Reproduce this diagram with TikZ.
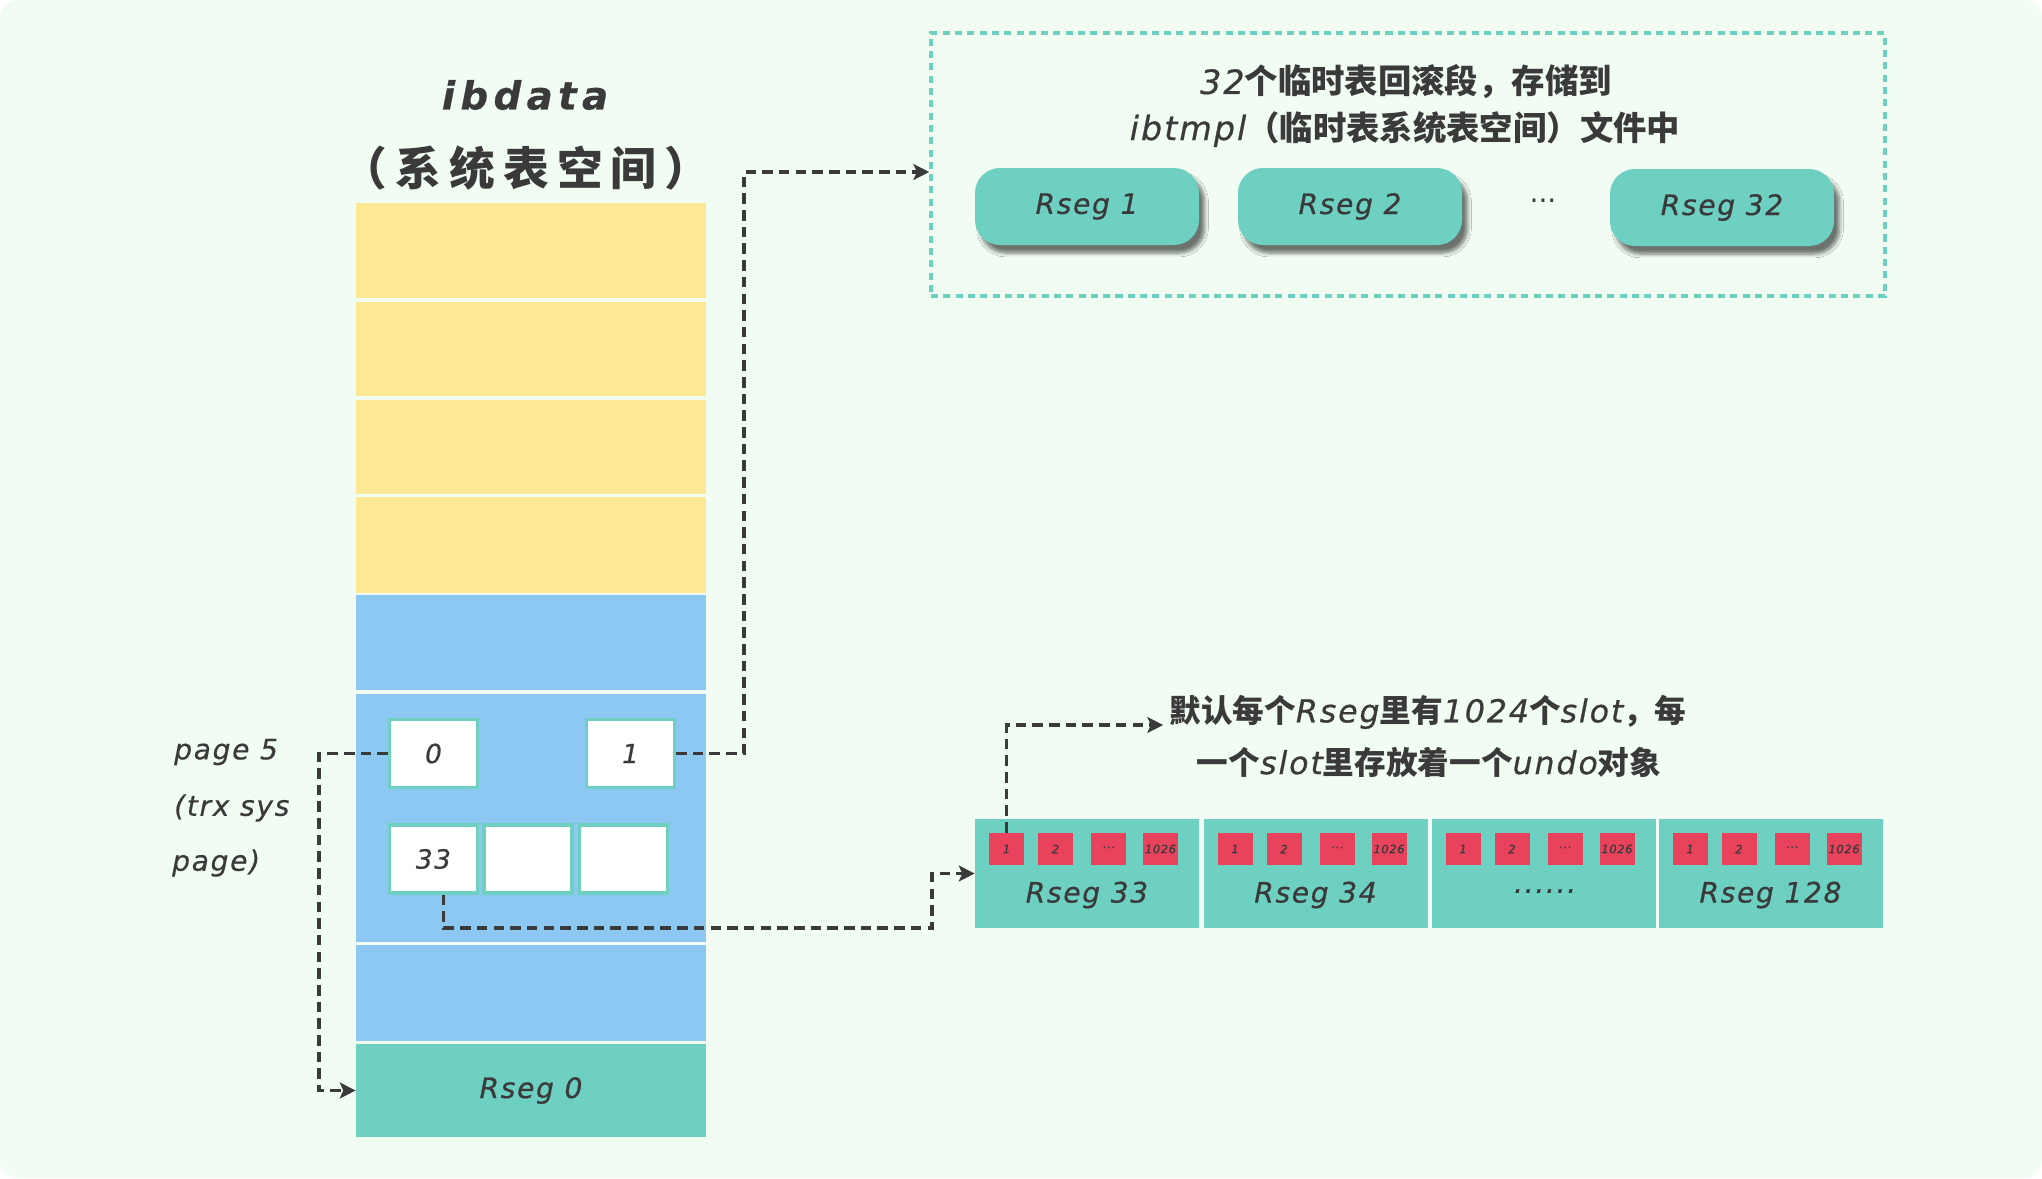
\documentclass[tikz,border=0pt]{standalone}
\usepackage{fontspec}
\setmainfont{DejaVu Sans}
\newfontfamily\hw[LetterSpace=6,FakeBold=0.6]{DejaVu Sans}
\newfontfamily\cjk{Noto Sans CJK SC}
\usetikzlibrary{arrows.meta,shadows.blur}
\newcommand\lat[1]{{\hw\mdseries\itshape #1}}
\newcommand\fs[1]{\fontsize{#1}{1.2\dimexpr#1\relax}\selectfont}
\definecolor{bgc}{HTML}{F1FDF3}
\definecolor{yel}{HTML}{FEE895}
\definecolor{blu}{HTML}{8DC8F3}
\definecolor{tealc}{HTML}{6DD0C1}
\definecolor{redc}{HTML}{E8425C}
\definecolor{dark}{HTML}{3A3A3A}
\begin{document}
\begin{tikzpicture}[x=0.02cm,y=-0.02cm,
  sz/.style 2 args={minimum width=#1*0.02cm, minimum height=#2*0.02cm},
  row/.style={inner sep=0pt, draw=none},
  wbox/.style={draw=tealc, line width=1.8pt, fill=white, inner sep=0pt, sz={88}{68}, text=dark, font={\fs{15pt}}},
  rr/.style={fill=tealc, rounded corners=0.5cm, sz={224}{77}, text=dark, font={\fs{16pt}},
     blur shadow={shadow xshift=0.11cm, shadow yshift=-0.16cm, shadow opacity=55, shadow blur steps=6}},
  cellst/.style={fill=tealc, inner sep=0pt, sz={224}{109}},
  slot/.style={fill=redc, inner sep=0pt, sz={35}{32}, text=dark, font={\hw\itshape\fs{6.5pt}}},
  lbl/.style={text=dark, font={\fs{16pt}}},
  cjkt/.style={text=dark, font={\cjk\bfseries\fs{#1}}},
  conn/.style={draw=dark, line width=2pt, dash pattern=on 6pt off 3.5pt,
     -{Stealth[length=9pt,width=9pt,inset=2pt]}}
]
\fill[white] (0,0) rectangle (2042,1178);
\fill[bgc, rounded corners=0.36cm] (0,0) rectangle (2042,1178);
\useasboundingbox (0,0) rectangle (2042,1178);

% title
\node[text=dark, font={\hw\bfseries\itshape\fs{22pt}}] (ti1) at (525,95) {\addfontfeature{LetterSpace=14}ibdata};
\node[cjkt=26pt] (ti2) at (526,168) {\addfontfeature{LetterSpace=18}（系统表空间）};

% column
\node[row, fill=yel, sz={350}{95}] (r1) at (531,250.5) {};
\node[row, fill=yel, sz={350}{94}] (r2) at (531,349) {};
\node[row, fill=yel, sz={350}{94}] (r3) at (531,447) {};
\node[row, fill=yel, sz={350}{96}] (r4) at (531,545) {};
\node[row, fill=blu, sz={350}{95}] (r5) at (531,642.5) {};
\node[row, fill=blu, sz={350}{248}] (r6) at (531,818) {};
\node[row, fill=blu, sz={350}{96}] (r7) at (531,993) {};
\node[row, fill=tealc, sz={350}{93}, lbl] (r8) at (531,1090.5) {\lat{Rseg 0}};

% boxes in page 5
\node[wbox] (b0) at (433.5,753.5) {\lat{0}};
\node[wbox] (b1) at (630.5,753.5) {\lat{1}};
\node[wbox] (b33) at (433.5,859) {\lat{33}};
\node[wbox] (bb) at (528,859) {};
\node[wbox] (bc) at (623.5,859) {};

% page 5 label
\node[lbl, anchor=west] (p1) at (168,752) {\lat{page 5}};
\node[lbl, anchor=west] (p2) at (168,808) {\lat{(trx sys}};
\node[lbl, anchor=west] (p3) at (166,863) {\lat{page)}};

% top dashed box
\node[draw=tealc, dash pattern=on 4pt off 3pt, line width=2pt, sz={954}{263}] (tbox) at (1408,164.5) {};
\node[cjkt=19pt] (t1) at (1406,82) {\lat{32}个临时表回滚段，存储到};
\node[cjkt=19pt] (t2) at (1405,129) {\lat{ibtmpl}（临时表系统表空间）文件中};
\node[rr] (q1) at (1087,206.5) {\lat{Rseg 1}};
\node[rr] (q2) at (1350,206.5) {\lat{Rseg 2}};
\node[lbl] (qd) at (1543,205) {···};
\node[rr] (q32) at (1722,207.5) {\lat{Rseg 32}};

% bottom strip
\foreach \i/\cx/\t in {1/1087/Rseg 33, 2/1315.5/Rseg 34, 3/1543.5/······, 4/1770.5/Rseg 128}{
  \node[cellst] (s\i) at (\cx,873.5) {};
  \node[lbl] (l\i) at (\cx,895) {\lat{\t}};
  \foreach \j/\dx/\st in {1/31.5/1, 2/80.5/2, 3/133.5/···, 4/185.5/1026}{
    \node[slot] (sl\i\j) at (\cx-112+\dx,849) {\st};
  }
}

% note
\node[cjkt=18pt] (n1) at (1428,712) {默认每个\lat{Rseg}里有\lat{1024}个\lat{slot}，每};
\node[cjkt=18pt] (n2) at (1429,762) {一个\lat{slot}里存放着一个\lat{undo}对象};

% connectors
\draw[conn] (b1.east) -- ++(68,0) |- ([yshift=-0.15cm]tbox.west);
\draw[conn] (b0.west) -- ++(-69,0) |- (r8.west);
\draw[conn] ([xshift=0.2cm]b33.south) |- (932,928) |- (s1.west);
\draw[conn] (sl11.north) |- ([yshift=-0.26cm]n1.west);
\end{tikzpicture}
\end{document}
